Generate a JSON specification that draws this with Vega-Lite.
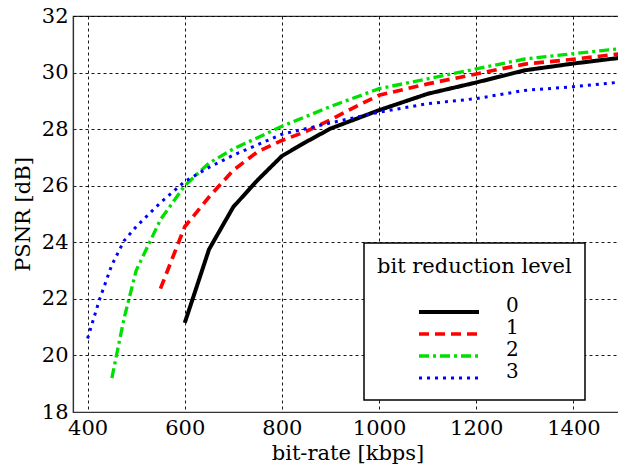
{
  "$schema": "https://vega.github.io/schema/vega-lite/v6.json",
  "width": 549,
  "height": 396,
  "autosize": {"type": "none"},
  "padding": {"left": 73, "top": 16, "right": 0, "bottom": 56},
  "background": "white",
  "config": {
    "view": {"stroke": "#333333", "strokeWidth": 1.2},
    "font": "DejaVu Serif",
    "axis": {
      "labelFont": "DejaVu Serif",
      "titleFont": "DejaVu Serif",
      "labelFontSize": 21,
      "titleFontSize": 21,
      "labelColor": "black",
      "titleColor": "black",
      "titleFontWeight": "normal",
      "domainColor": "#333333",
      "domainWidth": 1.2,
      "ticks": false,
      "grid": true,
      "gridColor": "black",
      "gridDash": [3, 3],
      "gridWidth": 1,
      "gridOpacity": 0.9
    },
    "legend": {
      "labelFont": "DejaVu Serif",
      "titleFont": "DejaVu Serif"
    }
  },
  "data": {
    "values": [
      {"rate": 600, "psnr": 21.15, "level": "0"},
      {"rate": 650, "psnr": 23.75, "level": "0"},
      {"rate": 700, "psnr": 25.25, "level": "0"},
      {"rate": 750, "psnr": 26.2, "level": "0"},
      {"rate": 800, "psnr": 27.05, "level": "0"},
      {"rate": 850, "psnr": 27.55, "level": "0"},
      {"rate": 900, "psnr": 28.02, "level": "0"},
      {"rate": 1000, "psnr": 28.67, "level": "0"},
      {"rate": 1100, "psnr": 29.25, "level": "0"},
      {"rate": 1200, "psnr": 29.65, "level": "0"},
      {"rate": 1300, "psnr": 30.08, "level": "0"},
      {"rate": 1400, "psnr": 30.32, "level": "0"},
      {"rate": 1500, "psnr": 30.53, "level": "0"},

      {"rate": 550, "psnr": 22.36, "level": "1"},
      {"rate": 600, "psnr": 24.55, "level": "1"},
      {"rate": 650, "psnr": 25.6, "level": "1"},
      {"rate": 700, "psnr": 26.55, "level": "1"},
      {"rate": 750, "psnr": 27.2, "level": "1"},
      {"rate": 800, "psnr": 27.6, "level": "1"},
      {"rate": 850, "psnr": 27.92, "level": "1"},
      {"rate": 900, "psnr": 28.33, "level": "1"},
      {"rate": 950, "psnr": 28.78, "level": "1"},
      {"rate": 1000, "psnr": 29.2, "level": "1"},
      {"rate": 1100, "psnr": 29.6, "level": "1"},
      {"rate": 1200, "psnr": 29.95, "level": "1"},
      {"rate": 1300, "psnr": 30.3, "level": "1"},
      {"rate": 1400, "psnr": 30.47, "level": "1"},
      {"rate": 1500, "psnr": 30.67, "level": "1"},

      {"rate": 450, "psnr": 19.2, "level": "2"},
      {"rate": 475, "psnr": 21.3, "level": "2"},
      {"rate": 500, "psnr": 23.0, "level": "2"},
      {"rate": 550, "psnr": 24.8, "level": "2"},
      {"rate": 600, "psnr": 26.0, "level": "2"},
      {"rate": 650, "psnr": 26.8, "level": "2"},
      {"rate": 700, "psnr": 27.3, "level": "2"},
      {"rate": 800, "psnr": 28.1, "level": "2"},
      {"rate": 900, "psnr": 28.8, "level": "2"},
      {"rate": 1000, "psnr": 29.43, "level": "2"},
      {"rate": 1100, "psnr": 29.78, "level": "2"},
      {"rate": 1200, "psnr": 30.13, "level": "2"},
      {"rate": 1300, "psnr": 30.48, "level": "2"},
      {"rate": 1400, "psnr": 30.67, "level": "2"},
      {"rate": 1500, "psnr": 30.85, "level": "2"},

      {"rate": 400, "psnr": 20.6, "level": "3"},
      {"rate": 425, "psnr": 22.0, "level": "3"},
      {"rate": 450, "psnr": 23.2, "level": "3"},
      {"rate": 475, "psnr": 24.05, "level": "3"},
      {"rate": 500, "psnr": 24.55, "level": "3"},
      {"rate": 550, "psnr": 25.4, "level": "3"},
      {"rate": 600, "psnr": 26.15, "level": "3"},
      {"rate": 650, "psnr": 26.65, "level": "3"},
      {"rate": 700, "psnr": 27.08, "level": "3"},
      {"rate": 800, "psnr": 27.82, "level": "3"},
      {"rate": 900, "psnr": 28.22, "level": "3"},
      {"rate": 1000, "psnr": 28.6, "level": "3"},
      {"rate": 1100, "psnr": 28.9, "level": "3"},
      {"rate": 1200, "psnr": 29.08, "level": "3"},
      {"rate": 1300, "psnr": 29.37, "level": "3"},
      {"rate": 1400, "psnr": 29.5, "level": "3"},
      {"rate": 1500, "psnr": 29.67, "level": "3"}
    ]
  },
  "mark": {"type": "line", "clip": true},
  "encoding": {
    "x": {
      "field": "rate",
      "type": "quantitative",
      "scale": {"domain": [370, 1500], "nice": false, "zero": false},
      "axis": {"title": "bit-rate [kbps]", "format": "d", "values": [400, 600, 800, 1000, 1200, 1400], "labelPadding": 5, "titlePadding": 4, "labelFlush": false}
    },
    "y": {
      "field": "psnr",
      "type": "quantitative",
      "scale": {"domain": [18, 32], "nice": false, "zero": false},
      "axis": {"title": "PSNR [dB]", "format": "d", "values": [18, 20, 22, 24, 26, 28, 30, 32], "labelPadding": 5, "titlePadding": 8}
    },
    "color": {
      "field": "level",
      "type": "nominal",
      "scale": {"domain": ["0", "1", "2", "3"], "range": ["#000000", "#ff0000", "#00e000", "#0000ff"]},
      "legend": {
        "title": "bit reduction level",
        "orient": "none",
        "legendX": 291,
        "legendY": 227,
        "direction": "vertical",
        "fillColor": "white",
        "strokeColor": "black",
        "cornerRadius": 0,
        "padding": 13,
        "titleFontSize": 21,
        "titleFontWeight": "normal",
        "titleColor": "black",
        "titleLimit": 400,
        "titlePadding": 26,
        "labelFontSize": 20,
        "labelColor": "black",
        "labelBaseline": "alphabetic",
        "labelOffset": 25,
        "symbolType": "stroke",
        "symbolSize": 3600,
        "symbolOffset": 40,
        "clipHeight": 18,
        "rowPadding": -3,
        "encode": {"legend": {"update": {"strokeWidth": {"value": 1.5}}}}
      }
    },
    "strokeDash": {
      "field": "level",
      "type": "nominal",
      "scale": {"domain": ["0", "1", "2", "3"], "range": [[1, 0], [10, 6], [10, 4, 3, 4], [3, 5]]},
      "legend": null
    },
    "strokeWidth": {
      "field": "level",
      "type": "ordinal",
      "scale": {"domain": ["0", "1", "2", "3"], "range": [4, 3, 3, 3]},
      "legend": null
    }
  }
}
